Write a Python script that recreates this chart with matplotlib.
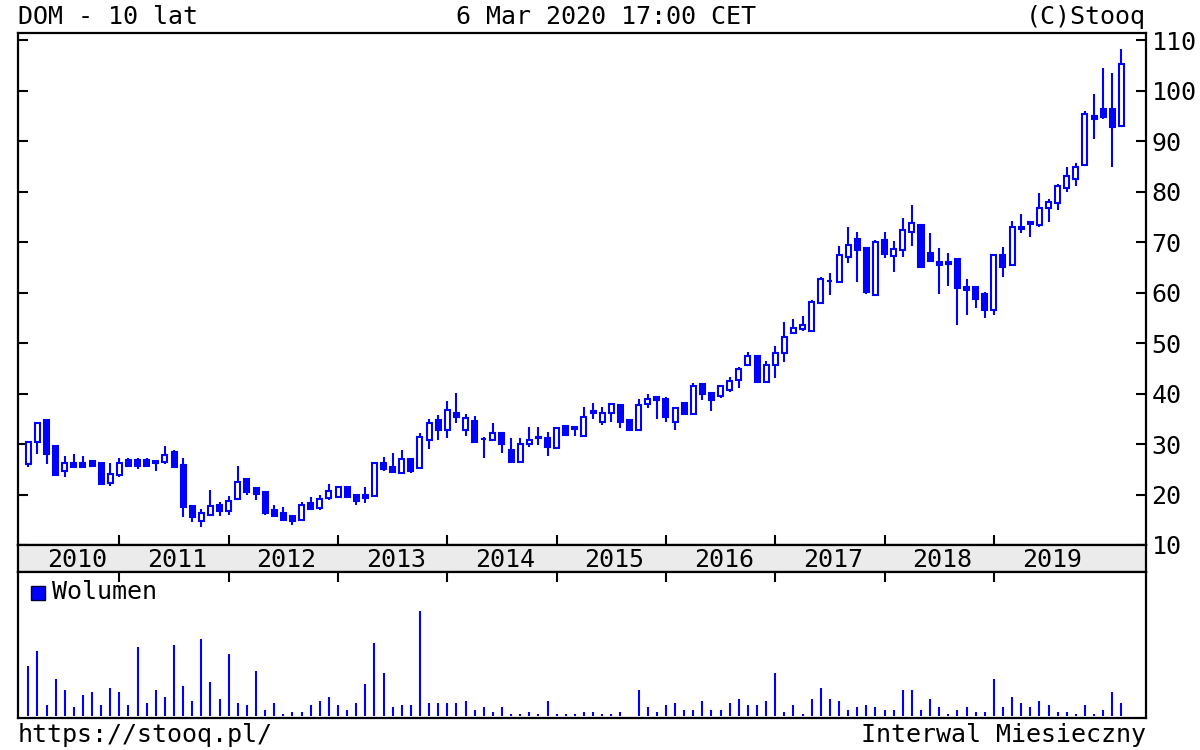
import matplotlib
matplotlib.use("Agg")
import matplotlib.pyplot as plt
from matplotlib.patches import Rectangle
import numpy as np

# monthly candles, Mar 2010 .. Mar 2020
first_year, first_month = 2010, 3
opens = [26.0, 30.3, 34.7, 29.7, 24.7, 26.3, 26.3, 26.7, 26.3, 22.2,
         23.9, 26.8, 26.8, 26.8, 26.7, 26.5, 28.5, 25.9, 17.8, 14.7,
         16.0, 18.0, 16.7, 19.2, 23.0, 21.3, 20.5, 17.0, 16.3, 15.7,
         15.0, 18.4, 17.3, 19.25, 19.6, 21.5, 19.9, 19.9, 19.7, 26.2,
         25.4, 24.3, 27.0, 25.2, 30.8, 34.7, 32.8, 36.1, 32.8, 34.6,
         31.0, 30.7, 32.1, 28.8, 26.5, 30.0, 31.4, 31.1, 29.3, 33.5,
         33.4, 31.6, 36.1, 34.4, 36.2, 37.7, 34.8, 32.8, 37.9, 39.4,
         39.0, 34.4, 38.2, 35.9, 41.9, 40.2, 39.6, 40.7, 42.7, 45.6,
         47.4, 42.2, 45.6, 48.1, 52.0, 52.7, 52.3, 57.9, 62.3, 62.0,
         67.1, 70.7, 68.75, 59.5, 70.4, 67.2, 68.4, 71.9, 73.4, 67.8,
         66.1, 66.1, 66.6, 61.0, 61.0, 59.8, 56.5, 67.4, 65.5, 73.0,
         73.5, 73.4, 76.7, 77.8, 80.8, 82.4, 85.25, 94.9, 96.3, 96.3,
         93.0]
highs = [30.5, 34.4, 34.7, 29.7, 27.6, 28.0, 27.6, 26.7, 26.3, 26.2,
         27.2, 27.2, 27.2, 27.2, 26.7, 29.6, 28.8, 27.2, 17.8, 17.2,
         20.8, 18.6, 19.7, 25.7, 23.0, 21.3, 20.5, 17.9, 17.5, 15.7,
         18.5, 19.6, 19.9, 22.1, 21.5, 21.5, 19.9, 21.5, 26.2, 27.5,
         28.3, 28.8, 27.0, 32.2, 34.9, 35.7, 38.6, 40.2, 36.0, 35.5,
         31.3, 34.2, 32.1, 31.1, 31.1, 33.4, 33.4, 32.4, 33.4, 33.5,
         33.4, 37.3, 38.2, 37.3, 38.2, 37.7, 34.8, 38.9, 39.9, 39.4,
         39.4, 37.2, 38.2, 42.0, 41.9, 40.2, 41.7, 43.2, 45.3, 48.3,
         47.4, 46.5, 49.4, 54.2, 54.7, 55.3, 58.5, 63.1, 63.8, 69.2,
         72.9, 72.0, 68.75, 70.4, 72.0, 70.3, 74.7, 77.3, 73.4, 71.7,
         68.75, 67.9, 66.6, 62.6, 61.0, 60.2, 67.4, 69.1, 74.2, 75.5,
         74.1, 79.8, 78.5, 81.5, 84.8, 85.7, 96.0, 99.3, 104.4, 103.5,
         108.2]
lows = [25.5, 28.0, 26.0, 23.7, 23.4, 25.2, 25.5, 25.4, 22.1, 21.7,
        23.4, 25.4, 25.0, 25.7, 24.7, 26.1, 25.5, 15.5, 14.5, 13.5,
        15.7, 15.7, 16.0, 19.0, 19.9, 18.9, 15.9, 15.5, 15.0, 13.9,
        15.0, 16.9, 16.9, 19.0, 19.3, 19.6, 17.9, 18.4, 19.5, 24.7,
        24.3, 24.3, 24.2, 25.2, 29.0, 30.7, 31.1, 34.1, 31.5, 30.3,
        27.2, 30.7, 28.2, 26.5, 26.5, 29.5, 29.8, 27.6, 29.3, 31.5,
        31.6, 31.6, 34.9, 33.8, 34.4, 33.1, 32.8, 32.8, 37.1, 34.9,
        34.4, 32.8, 35.9, 35.9, 38.7, 36.6, 39.2, 40.4, 41.0, 45.6,
        42.2, 42.2, 43.0, 46.3, 52.0, 52.4, 52.3, 57.9, 59.5, 62.0,
        65.8, 62.0, 59.8, 59.5, 66.8, 64.1, 67.1, 69.2, 65.0, 66.3,
        59.8, 61.2, 53.6, 55.5, 56.9, 54.9, 55.5, 63.1, 65.5, 71.7,
        71.0, 73.0, 74.0, 76.3, 80.0, 81.1, 85.0, 90.5, 94.4, 84.9,
        93.0]
closes = [30.3, 34.1, 28.0, 23.8, 26.3, 25.4, 25.5, 25.7, 22.1, 24.1,
          26.3, 25.7, 25.7, 25.7, 26.2, 27.8, 25.5, 17.5, 15.5, 16.4,
          17.8, 16.8, 18.7, 22.5, 20.5, 20.1, 16.3, 15.7, 15.0, 14.7,
          18.0, 17.1, 19.2, 20.75, 21.5, 19.6, 18.8, 19.25, 26.2, 25.0,
          24.5, 27.0, 24.7, 31.3, 34.2, 32.8, 36.7, 35.3, 35.1, 30.3,
          30.9, 32.1, 30.0, 26.5, 30.0, 30.8, 31.2, 29.5, 33.1, 31.8,
          32.9, 35.4, 36.5, 36.1, 37.9, 34.4, 32.8, 37.7, 38.9, 38.7,
          35.4, 37.2, 35.9, 41.5, 40.0, 38.7, 41.4, 42.5, 44.8, 47.4,
          42.2, 45.6, 48.1, 51.1, 52.9, 53.6, 58.2, 62.6, 62.2, 67.4,
          69.4, 68.4, 60.2, 70.1, 67.6, 68.6, 72.4, 73.7, 65.0, 66.3,
          65.5, 65.6, 60.8, 60.6, 58.7, 56.5, 67.4, 65.0, 72.9, 72.6,
          73.9, 76.7, 78.0, 81.1, 83.1, 84.8, 95.3, 94.3, 94.7, 92.7,
          105.2]
volume_k = [500, 650, 110, 370, 260, 90, 217, 240, 110, 283,
            240, 110, 690, 133, 260, 197, 710, 303, 153, 777,
            347, 173, 627, 133, 110, 453, 67, 133, 27, 47,
            47, 110, 153, 197, 110, 67, 133, 327, 733, 433,
            90, 110, 110, 1053, 133, 133, 133, 133, 153, 67,
            90, 47, 90, 27, 27, 47, 27, 153, 27, 27,
            27, 47, 47, 27, 27, 47, 3, 260, 90, 47,
            110, 133, 67, 67, 153, 67, 67, 133, 173, 110,
            110, 153, 433, 47, 110, 27, 173, 283, 173, 153,
            67, 90, 110, 90, 67, 67, 260, 260, 67, 173,
            90, 27, 67, 90, 47, 47, 370, 90, 197, 133,
            90, 153, 110, 47, 47, 27, 110, 27, 67, 240,
            133]
years = list(range(2010, 2020))
price_ticks = list(range(10, 111, 10))

BLUE = "#0000ff"
FS = 18
plt.rcParams["font.family"] = ["DejaVu Sans Mono"]
plt.rcParams["font.size"] = FS

W, H = 1200, 750
n = len(opens)
x = np.arange(n)
jan_idx = [(y - first_year) * 12 + (1 - first_month) for y in years + [2020]]
xmin, xmax = -1.13, 122.7

fig = plt.figure(figsize=(12, 7.5), dpi=100)

def box(l, t, r, b):
    return [l / W, 1 - b / H, (r - l) / W, (b - t) / H]

ax = fig.add_axes(box(18, 33, 1146, 545))
strip = fig.add_axes(box(18, 545, 1146, 572))
vax = fig.add_axes(box(18, 572, 1146, 718))

# candles
ax.vlines(x, lows, highs, color=BLUE, lw=1.5)
bw = 0.55
for i in range(n):
    o, c = opens[i], closes[i]
    fc = BLUE if c < o else "white"
    ax.add_patch(Rectangle((i - bw / 2, min(o, c)), bw, max(abs(c - o), 0.12),
                           facecolor=fc, edgecolor=BLUE, lw=1.5, zorder=3))
ax.set_xlim(xmin, xmax)
ax.set_ylim(10, 111.4)
ax.set_yticks(price_ticks)
ax.set_xticks(jan_idx[1:-1])
ax.tick_params(axis="y", which="both", direction="in", length=7, width=1.5,
               left=True, right=True, labelleft=False, labelright=True, pad=4)
ax.tick_params(axis="x", direction="in", length=7, width=1.5, labelbottom=False)

# year strip
strip.set_facecolor("#ebebeb")
strip.set_xlim(xmin, xmax)
strip.set_ylim(0, 1)
strip.set_xticks([])
strip.set_yticks([])
for k, yr in enumerate(years):
    start = max(jan_idx[k], 0)
    mid = (start + jan_idx[k + 1]) / 2 + 0.35
    strip.text(mid, 0.45, str(yr), ha="center", va="center", fontsize=FS)

# volume
vax.vlines(x, 0, volume_k, color=BLUE, lw=1.5)
vax.set_xlim(xmin, xmax)
vax.set_ylim(-15, 1440)
vax.set_yticks([])
vax.set_xticks(jan_idx[1:-1])
vax.tick_params(axis="x", direction="in", length=7, width=1.5, top=True,
                bottom=False, labelbottom=False)

for a in (ax, strip, vax):
    for s in a.spines.values():
        s.set_linewidth(1.6)

# legend of volume panel
fig.patches.append(Rectangle((31 / W, 1 - 600 / H), 14 / W, 14 / H,
                             transform=fig.transFigure, facecolor=BLUE,
                             edgecolor="#000033", lw=1))
fig.text(52 / W, 1 - 592 / H, "Wolumen", ha="left", va="center", fontsize=FS)

# header / footer
fig.text(18 / W, 1 - 24 / H, "DOM - 10 lat", ha="left", va="baseline", fontsize=FS)
fig.text(606 / W, 1 - 24 / H, "6 Mar 2020 17:00 CET", ha="center", va="baseline", fontsize=FS)
fig.text(1146 / W, 1 - 24 / H, "(C)Stooq", ha="right", va="baseline", fontsize=FS)
fig.text(18 / W, 1 - 742 / H, "https://stooq.pl/", ha="left", va="baseline", fontsize=FS)
fig.text(1146 / W, 1 - 742 / H, "Interwal Miesieczny", ha="right", va="baseline", fontsize=FS)

fig.savefig("out.png", dpi=100, facecolor="white")
